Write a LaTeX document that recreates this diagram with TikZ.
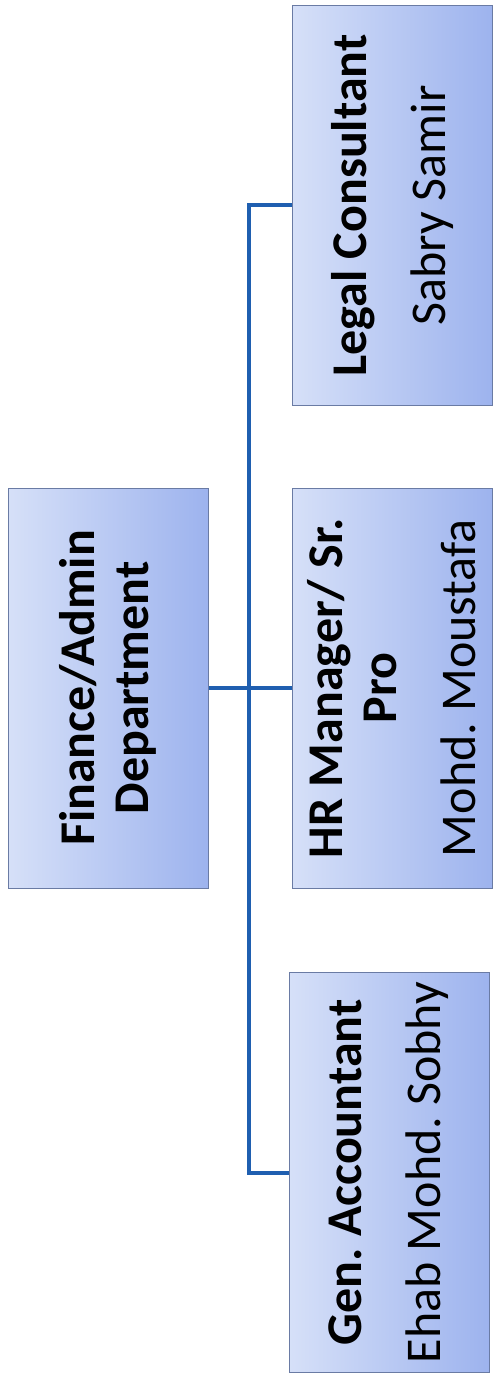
\documentclass[tikz,border=0pt]{standalone}
\usepackage{fontspec}
\setmainfont{Carlito}
\usepackage{tikz}
\usetikzlibrary{positioning,calc}
\definecolor{boxlight}{HTML}{D6E0F8}
\definecolor{boxdark}{HTML}{9DB3EE}
\definecolor{boxline}{HTML}{6A7BA4}
\definecolor{linkblue}{HTML}{1F5FB0}
\frenchspacing

\begin{document}
\begin{tikzpicture}[
    x=0.5pt, y=-0.5pt,
    box/.style={rectangle, draw=boxline, line width=0.5pt, rotate=90,
        left color=boxlight, right color=boxdark,
        minimum width=200pt, minimum height=100pt, inner sep=0pt, align=center,
        font=\fontsize{25}{27}\selectfont},
    link/.style={draw=linkblue, line width=2pt}
]
\useasboundingbox (0,0) rectangle (494,1380);

\node[box] (legal) at (392,205.5) {\textbf{Legal Consultant}\\[12.5pt]Sabry Samir};
\node[box] (fin) at (108,688) {\textbf{Finance/Admin}\\\textbf{Department}};
\node[box] (hr) at (392,688) {\textbf{HR Manager/ Sr.}\\\textbf{Pro}\\[12.5pt]Mohd. Moustafa};
\node[box] (gen) at (389,1172.5) {\textbf{Gen. Accountant}\\[12.5pt]Ehab Mohd. Sobhy};
\coordinate (trunk) at (249,0);

\draw[link] (fin) -- (hr);
\draw[link] (legal.north) -| (trunk |- gen.north) -- (gen.north);
\end{tikzpicture}
\end{document}
